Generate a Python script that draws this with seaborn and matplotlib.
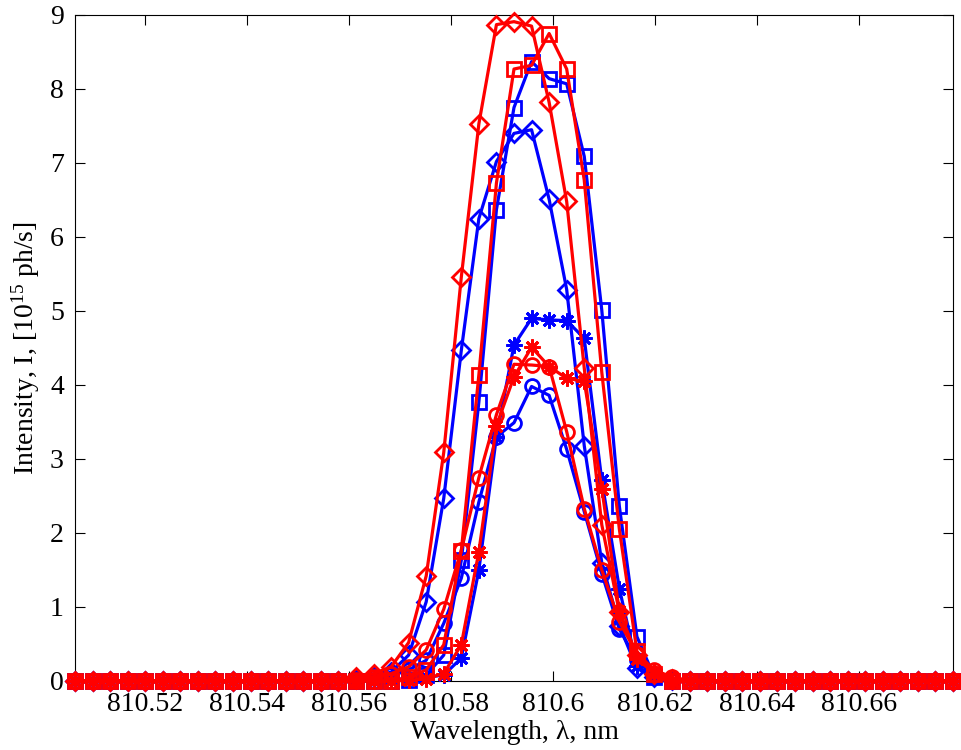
import numpy as np
import pandas as pd
import matplotlib
matplotlib.use("Agg")
import matplotlib.pyplot as plt
import seaborn as sns

# wavelength grid, nm (51 points across the window)
wavelength = np.linspace(810.5063, 810.6784, 51)

zeros16 = [0.0] * 16
zeros16b = [0.0] * 16

# intensity values, 10^15 ph/s (points 16..34, rest are ~0)
blue_circle = zeros16 + [0.02, 0.05, 0.08, 0.15, 0.28, 0.78, 1.39, 2.42, 3.30, 3.49,
                         3.98, 3.86, 3.13, 2.29, 1.45, 0.70, 0.28, 0.05, 0.02] + zeros16b
blue_star = zeros16 + [0.0, 0.0, 0.02, 0.03, 0.05, 0.08, 0.31, 1.50, 3.30, 4.54,
                       4.90, 4.88, 4.87, 4.63, 2.71, 1.25, 0.20, 0.05, 0.0] + zeros16b
blue_diamond = zeros16 + [0.03, 0.05, 0.12, 0.35, 1.07, 2.47, 4.47, 6.25, 7.02, 7.40,
                          7.45, 6.51, 5.29, 3.18, 1.60, 0.75, 0.17, 0.05, 0.02] + zeros16b
blue_square = zeros16 + [0.0, 0.0, 0.0, 0.02, 0.08, 0.35, 1.63, 3.77, 6.37, 7.75,
                         8.37, 8.14, 8.07, 7.09, 5.01, 2.36, 0.60, 0.05, 0.0] + zeros16b
red_circle = zeros16 + [0.02, 0.05, 0.10, 0.19, 0.42, 0.97, 1.77, 2.75, 3.60, 4.28,
                        4.27, 4.25, 3.37, 2.33, 1.50, 0.80, 0.37, 0.15, 0.05] + zeros16b
red_star = zeros16 + [0.0, 0.0, 0.0, 0.01, 0.03, 0.10, 0.49, 1.75, 3.45, 4.11,
                      4.51, 4.25, 4.09, 4.05, 2.60, 0.94, 0.30, 0.10, 0.0] + zeros16b
red_diamond = zeros16 + [0.05, 0.10, 0.19, 0.52, 1.42, 3.09, 5.46, 7.53, 8.87, 8.91,
                         8.85, 7.82, 6.48, 4.23, 2.11, 0.93, 0.35, 0.10, 0.03] + zeros16b
red_square = zeros16 + [0.0, 0.0, 0.0, 0.05, 0.15, 0.49, 1.76, 4.14, 6.73, 8.27,
                        8.32, 8.75, 8.27, 6.77, 4.17, 2.05, 0.40, 0.10, 0.0] + zeros16b

xticks = [810.52, 810.54, 810.56, 810.58, 810.6, 810.62, 810.64, 810.66]
xtick_labels = ["810.52", "810.54", "810.56", "810.58", "810.6", "810.62", "810.64", "810.66"]
yticks = list(range(0, 10))

series = [
    ("blue_circle", blue_circle, "#0000ff", "o"),
    ("blue_star", blue_star, "#0000ff", (8, 2, 0)),
    ("blue_diamond", blue_diamond, "#0000ff", "D"),
    ("blue_square", blue_square, "#0000ff", "s"),
    ("red_circle", red_circle, "#ff0000", "o"),
    ("red_star", red_star, "#ff0000", (8, 2, 0)),
    ("red_diamond", red_diamond, "#ff0000", "D"),
    ("red_square", red_square, "#ff0000", "s"),
]
marker_sizes = {"o": 10, "D": 9.5, "s": 10.5}

sns.set_theme(style="ticks")
plt.rcParams["font.family"] = ["Liberation Serif", "DejaVu Serif"]
plt.rcParams["mathtext.fontset"] = "custom"
plt.rcParams["mathtext.rm"] = "Liberation Serif"
plt.rcParams["mathtext.default"] = "regular"
plt.rcParams["text.color"] = "black"
plt.rcParams["axes.labelcolor"] = "black"

fig = plt.figure(figsize=(9.62, 7.5), dpi=100)
ax = fig.add_axes([75 / 962, 1 - 681 / 750, (953 - 75) / 962, (681 - 15) / 750])

for name, vals, col, mk in series:
    df = pd.DataFrame({"wavelength": wavelength, "intensity": vals})
    msize = 11.5 if isinstance(mk, tuple) else marker_sizes[mk]
    sns.lineplot(data=df, x="wavelength", y="intensity", ax=ax, color=col,
                 linewidth=2.3, marker=mk, markersize=msize,
                 markerfacecolor="none", markeredgecolor=col, markeredgewidth=2.0,
                 clip_on=False, zorder=3)

ax.set_xlim(wavelength[0], wavelength[-1])
ax.set_ylim(0, 9)
ax.set_xticks(xticks)
ax.set_xticklabels(xtick_labels)
ax.set_yticks(yticks)
ax.tick_params(direction="in", top=True, right=True, length=7, width=0.8,
               labelsize=20, colors="black", labelcolor="black", pad=8)
for s in ax.spines.values():
    s.set_visible(True)
    s.set_color("black")
    s.set_linewidth(0.8)
ax.set_xlabel("Wavelength, λ, nm", fontsize=20, labelpad=2, color="black")
ax.set_ylabel("Intensity, I, [10$^{15}$ ph/s]", fontsize=20, labelpad=6, color="black")

fig.savefig("out.png", dpi=100)
